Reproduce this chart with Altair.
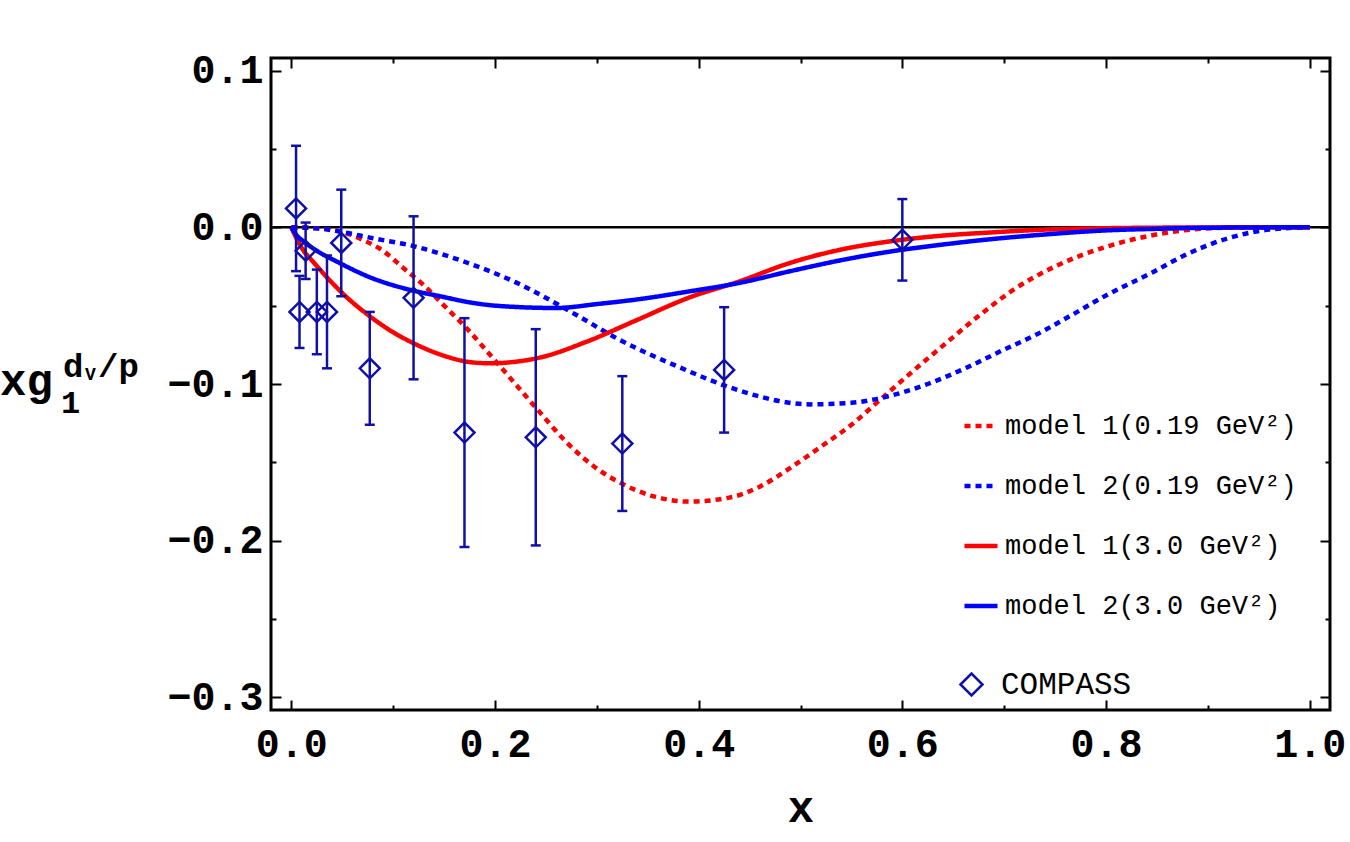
import altair as alt
import pandas as pd

# ---------------- data ----------------
m1_low_x = [0.0, 0.02, 0.05, 0.07, 0.09, 0.11, 0.13, 0.15, 0.17, 0.20, 0.24, 0.27, 0.30, 0.32, 0.355, 0.39, 0.43, 0.46,
            0.49, 0.52, 0.55, 0.58, 0.61, 0.64, 0.68, 0.71, 0.75, 0.80, 0.84, 0.88, 0.92, 0.96, 1.0]
m1_low_y = [0.0, -0.0005, -0.003, -0.008, -0.015, -0.026, -0.037, -0.050, -0.063, -0.085, -0.115, -0.137, -0.154, -0.162,
            -0.1715, -0.175, -0.1725, -0.1655, -0.1535, -0.140, -0.126, -0.109, -0.092, -0.0755, -0.054, -0.0395, -0.025,
            -0.0125, -0.0058, -0.0017, -0.0003, 0.0, 0.0]

m2_low_x = [0.0, 0.03, 0.05, 0.08, 0.12, 0.17, 0.22, 0.28, 0.32, 0.38, 0.43, 0.46, 0.48, 0.51, 0.55, 0.585, 0.625,
            0.665, 0.70, 0.73, 0.765, 0.80, 0.845, 0.88, 0.92, 0.96, 1.0]
m2_low_y = [0.0, -0.001, -0.003, -0.007, -0.012, -0.022, -0.035, -0.056, -0.071, -0.089, -0.102, -0.108, -0.111,
            -0.113, -0.112, -0.108, -0.100, -0.089, -0.078, -0.069, -0.0565, -0.0435, -0.029, -0.017, -0.007,
            -0.0015, 0.0]

m1_high_x = [0.0, 0.005, 0.012, 0.02, 0.035, 0.055, 0.0775, 0.10, 0.12, 0.15, 0.175, 0.195, 0.22, 0.245, 0.29, 0.34,
             0.39, 0.44, 0.49, 0.54, 0.59, 0.64, 0.69, 0.74, 0.80, 0.90, 1.0]
m1_high_y = [0.0, -0.007, -0.015, -0.021, -0.032, -0.045, -0.057, -0.067, -0.074, -0.082, -0.086, -0.0868, -0.0858,
             -0.083, -0.073, -0.059, -0.045, -0.0345, -0.0227, -0.0142, -0.0088, -0.0053, -0.0032, -0.0015, -0.0006,
             -0.0001, 0.0]

m2_high_x = [0.0, 0.005, 0.012, 0.025, 0.045, 0.0775, 0.117, 0.146, 0.176, 0.20, 0.26, 0.30, 0.34, 0.39, 0.44, 0.49,
             0.54, 0.59, 0.64, 0.69, 0.74, 0.80, 0.85, 0.90, 1.0]
m2_high_y = [0.0, -0.005, -0.009, -0.015, -0.022, -0.032, -0.040, -0.044, -0.048, -0.050, -0.0515, -0.049, -0.046,
             -0.041, -0.0355, -0.028, -0.021, -0.0153, -0.011, -0.0074, -0.0046, -0.002, -0.001, -0.0003, 0.0]

series_names = ["model 1(0.19 GeV²)", "model 2(0.19 GeV²)", "model 1(3.0 GeV²)", "model 2(3.0 GeV²)"]
series_colors = ["#ff0000", "#0000ff", "#ff0000", "#0000ff"]
series_dash = [[6, 5], [6, 5], [1, 0], [1, 0]]

compass_x = [0.0046, 0.008, 0.014, 0.025, 0.035, 0.049, 0.077, 0.12, 0.17, 0.24, 0.325, 0.425, 0.60]
compass_y = [0.012, -0.054, -0.015, -0.054, -0.054, -0.010, -0.090, -0.045, -0.131, -0.134, -0.138, -0.091, -0.008]
compass_err = [0.040, 0.023, 0.018, 0.027, 0.036, 0.034, 0.036, 0.052, 0.073, 0.069, 0.043, 0.040, 0.026]

x_major = [0.0, 0.2, 0.4, 0.6, 0.8, 1.0]
x_minor = [0.1, 0.3, 0.5, 0.7, 0.9]
y_major = [-0.3, -0.2, -0.1, 0.0, 0.1]
y_minor = [-0.25, -0.15, -0.05, 0.05]

X_DOM = [-0.02, 1.02]
Y_DOM = [-0.308, 0.108]

# ---------------- tables ----------------
frames = []
for name, xs_, ys_ in zip(series_names, [m1_low_x, m2_low_x, m1_high_x, m2_high_x],
                          [m1_low_y, m2_low_y, m1_high_y, m2_high_y]):
    frames.append(pd.DataFrame({"x": xs_, "y": ys_, "series": name}))
curves = pd.concat(frames, ignore_index=True)

pts = pd.DataFrame({
    "x": compass_x,
    "y": compass_y,
    "lo": [a - e for a, e in zip(compass_y, compass_err)],
    "hi": [a + e for a, e in zip(compass_y, compass_err)],
    "src": "COMPASS",
})

FONT = "Liberation Mono"
DATA_C = "#1010a8"

xs = alt.Scale(domain=X_DOM, nice=False, zero=False)
ys = alt.Scale(domain=Y_DOM, nice=False, zero=False)

# ---------------- axes ----------------
def tick_axis(orient, values, size):
    return alt.Axis(orient=orient, values=values, labels=False, domain=False, grid=False, ticks=True,
                    tickSize=size, offset=-size, tickWidth=2, tickColor="black", title=None)

axis_x_labels = alt.Axis(orient="bottom", values=x_major, format=".1f", ticks=False, domain=False, grid=False,
                         labelFont=FONT, labelFontWeight="bold", labelFontSize=40, labelPadding=14,
                         labelColor="black", labelFlush=False, title="x", titleFont=FONT,
                         titleFontWeight="bold", titleFontSize=44, titlePadding=22, titleColor="black")
axis_y_labels = alt.Axis(orient="left", values=y_major, format=".1f", ticks=False, domain=False, grid=False,
                         labelFont=FONT, labelFontWeight="bold", labelFontSize=40, labelPadding=8,
                         labelColor="black", labelFlush=False, title=None)

carrier_df = pd.DataFrame({"x": [0.5], "y": [0.0]})


def carrier(ax_x, ax_y):
    return alt.Chart(carrier_df).mark_point(opacity=0).encode(
        x=alt.X("x:Q", scale=xs, axis=ax_x),
        y=alt.Y("y:Q", scale=ys, axis=ax_y),
    )


c1 = carrier(tick_axis("bottom", x_major, 10), tick_axis("left", y_major, 10))
c2 = carrier(tick_axis("bottom", x_minor, 5), tick_axis("left", y_minor, 5))
c3 = carrier(tick_axis("top", x_major, 10), tick_axis("right", y_major, 10))
c4 = carrier(tick_axis("top", x_minor, 5), tick_axis("right", y_minor, 5))

# ---------------- marks ----------------
zero = alt.Chart(pd.DataFrame({"y": [0.0]})).mark_rule(color="black", strokeWidth=2.5).encode(
    y=alt.Y("y:Q", scale=ys, axis=None)
)

line_legend = alt.Legend(title=None, orient="none", legendX=691, legendY=349, symbolType="stroke",
                         symbolSize=1089, symbolStrokeWidth=4.5, labelFont=FONT, labelFontSize=27,
                         labelColor="black", rowPadding=28, labelOffset=5, padding=0, labelLimit=400)

lines = alt.Chart(curves).mark_line(strokeWidth=4.5, interpolate="monotone", strokeCap="butt").encode(
    x=alt.X("x:Q", scale=xs, axis=axis_x_labels),
    y=alt.Y("y:Q", scale=ys, axis=axis_y_labels),
    color=alt.Color("series:N", scale=alt.Scale(domain=series_names, range=series_colors), legend=line_legend),
    strokeDash=alt.StrokeDash("series:N", scale=alt.Scale(domain=series_names, range=series_dash),
                              legend=line_legend),
)

err = alt.Chart(pts).mark_rule(color=DATA_C, strokeWidth=2.5, opacity=1).encode(
    x=alt.X("x:Q", scale=xs, axis=None),
    y=alt.Y("lo:Q", scale=ys, axis=None),
    y2="hi:Q",
)
cap_lo = alt.Chart(pts).mark_tick(orient="horizontal", size=10, thickness=2.5, color=DATA_C, opacity=1).encode(
    x=alt.X("x:Q", scale=xs, axis=None),
    y=alt.Y("lo:Q", scale=ys, axis=None),
)
cap_hi = alt.Chart(pts).mark_tick(orient="horizontal", size=10, thickness=2.5, color=DATA_C, opacity=1).encode(
    x=alt.X("x:Q", scale=xs, axis=None),
    y=alt.Y("hi:Q", scale=ys, axis=None),
)
points = alt.Chart(pts).mark_point(filled=False, size=400, strokeWidth=2.5, color=DATA_C, opacity=1).encode(
    x=alt.X("x:Q", scale=xs, axis=None),
    y=alt.Y("y:Q", scale=ys, axis=None),
    shape=alt.Shape("src:N", scale=alt.Scale(domain=["COMPASS"], range=["diamond"]),
                    legend=alt.Legend(title=None, orient="none", legendX=685, legendY=611, symbolSize=484,
                                      symbolStrokeWidth=2.5, symbolStrokeColor=DATA_C, symbolOpacity=1,
                                      symbolFillColor="transparent", labelFont=FONT, labelFontSize=31,
                                      labelColor="black", labelOffset=14, padding=0)),
)

# ---------------- y-axis title pieces ----------------
def txt(s, x, y, size, weight="bold"):
    return alt.Chart(pd.DataFrame({"t": [s]})).mark_text(
        font=FONT, fontSize=size, fontWeight=weight, align="left", baseline="alphabetic", color="black"
    ).encode(text="t:N", x=alt.value(x), y=alt.value(y))


t_xg = txt("xg", -271, 337, 44)
t_1 = txt("1", -210, 355, 32)
t_d = txt("d", -208, 319, 34)
t_v = txt("V", -186, 322, 18)
t_p = txt("/p", -173, 319, 34)

chart = alt.layer(
    c1, c2, c3, c4, zero, lines, err, cap_lo, cap_hi, points, t_xg, t_1, t_d, t_v, t_p
).resolve_axis(x="independent", y="independent").properties(
    width=1059, height=652,
    autosize=alt.AutoSizeParams(type="none"),
    padding={"left": 271, "top": 58, "right": 20, "bottom": 132},
    background="white",
).configure_view(stroke="black", strokeWidth=3)

chart.save("out.html", embed_options={"renderer": "svg", "actions": False})
